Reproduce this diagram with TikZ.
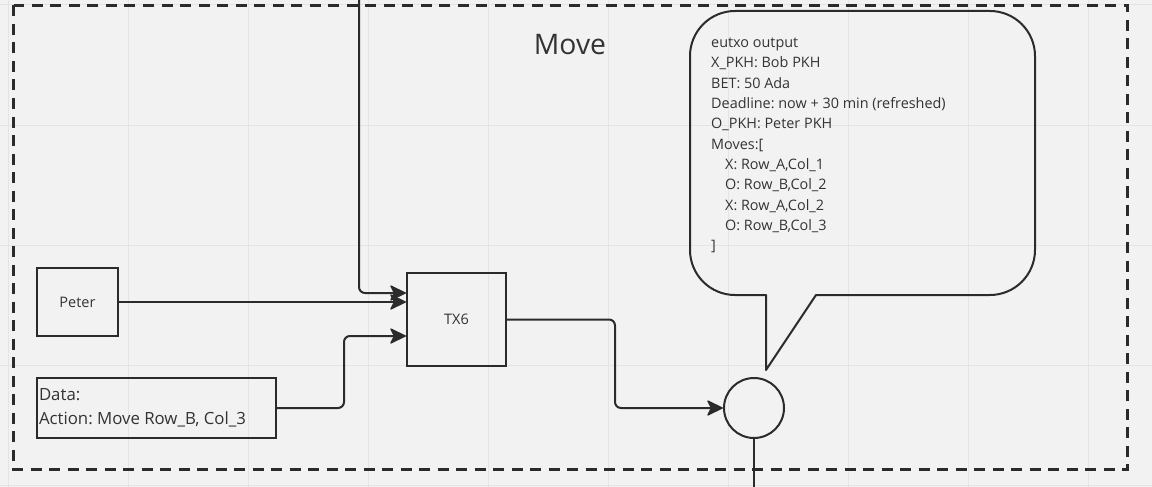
\documentclass[tikz,border=0pt]{standalone}
\usepackage{fontspec}
\setmainfont{Open Sans}
\definecolor{canvas}{HTML}{F2F2F2}
\definecolor{gridline}{HTML}{E4E4E4}
\definecolor{ink}{HTML}{2B2B2B}
\definecolor{textgray}{HTML}{333333}
% filled dart pointing right, tip at the given coordinate
\newcommand\rightdart[1]{\filldraw[ink,line width=1.2pt,line join=round]
  ([xshift=-0.6pt]#1) -- ++(-14.5,-7) -- ++(3.5,7) -- ++(-3.5,7) -- cycle;}
\begin{document}
\frenchspacing
\begin{tikzpicture}[x=1pt,y=-1pt,
  line/.style={draw=ink,line width=2pt},
  box/.style={line,inner sep=0pt,text=textgray,font=\fontsize{14.5}{17}\selectfont},
  conn/.style={draw=ink,line width=2pt,shorten >=12pt},
  elbow/.style={rounded corners=6pt},
  plain/.style={draw=ink,line width=2pt},
  frame/.style={draw=ink,line width=2.5pt,dash pattern=on 11pt off 7.5pt}]
% canvas and background grid
\fill[canvas] (0,0) rectangle (1152,487);
\useasboundingbox (0,0) rectangle (1152,487);
\foreach \gx in {8,128,...,1088} \draw[gridline,line width=1pt] (\gx,0) -- (\gx,487);
\foreach \gy in {5,125,...,485} \draw[gridline,line width=1pt] (0,\gy) -- (1152,\gy);
% dashed group frame
\draw[frame] (13.5,5.5) rectangle (1127.5,469.5);
\node[text=textgray,font=\fontsize{28.3}{32}\selectfont] (title) at (570,45) {Move};
% boxes
\node[box,minimum width=81pt,minimum height=68pt] (peter) at (77.5,302) {Peter};
\node[box,minimum width=239pt,minimum height=60pt,text width=235pt,align=flush left,
  font=\fontsize{16.8}{24}\selectfont] (data) at (156.5,408) {Data:\\Action: Move Row\_B, Col\_3};
\node[box,minimum width=99pt,minimum height=93pt] (tx6) at (456.5,319.5) {TX6};
\node[line,circle,minimum size=60pt,inner sep=0pt] (out) at (754,408) {};
% speech bubble with the output datum
\draw[line,line join=round] (816,295) -- (990,295)
  .. controls (1014.8,295) and (1035,274.8) .. (1035,250) -- (1035,56)
  .. controls (1035,31.2) and (1014.8,11) .. (990,11) -- (735,11)
  .. controls (710.2,11) and (690,31.2) .. (690,56) -- (690,250)
  .. controls (690,274.8) and (710.2,295) .. (735,295) -- (766,295) -- (766,370) -- cycle;
\node[anchor=north west,inner sep=0pt,align=left,text=textgray,
  font=\fontsize{14.4}{20.3}\selectfont] (datum) at (711,38) {eutxo output\\
X\_PKH: Bob PKH\\
BET: 50 Ada\\
Deadline: now + 30 min (refreshed)\\
O\_PKH: Peter PKH\\
Moves:[\\
\hspace*{14pt}X: Row\_A,Col\_1\\
\hspace*{14pt}O: Row\_B,Col\_2\\
\hspace*{14pt}X: Row\_A,Col\_2\\
\hspace*{14pt}O: Row\_B,Col\_3\\
]};
% connectors
\coordinate (prev) at (359,-2);
\coordinate (next) at (754,490);
\coordinate (inA) at ([yshift=26.5pt]tx6.west);
\coordinate (inB) at (peter.east -| tx6.west);
\coordinate (inC) at ([yshift=-16.5pt]tx6.west);
\draw[conn] (prev) {[elbow] |- (inA)};
\draw[conn] (peter.east) -- (inB);
\draw[conn] (data.east) {[elbow] -- ++(67,0) |- (inC)};
\draw[conn] (tx6.east) {[elbow] -- ++(108,0) |- (out.west)};
\rightdart{inA}
\rightdart{inB}
\rightdart{inC}
\rightdart{out.west}
\draw[plain] (out.south) -- (next);
\end{tikzpicture}
\end{document}
